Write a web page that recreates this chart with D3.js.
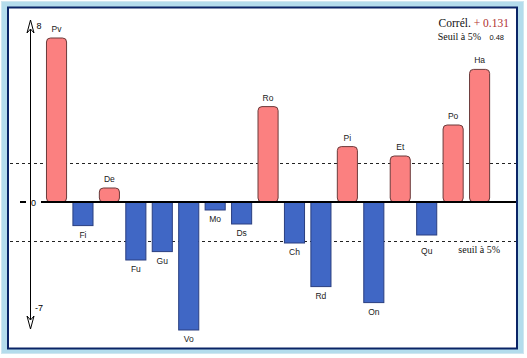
<!DOCTYPE html>
<html>
<head>
<meta charset="utf-8">
<script src="https://cdn.jsdelivr.net/npm/d3@7"></script>
<style>
  html, body { margin: 0; padding: 0; background: #ffffff; }
  svg { display: block; }
</style>
</head>
<body>
<div id="chart"></div>
<script>
// ---- Data ----
const categories = ["Pv","Fi","De","Fu","Gu","Vo","Mo","Ds","Ro","Ch","Rd","Pi","On","Et","Qu","Po","Ha"];
const values = [8.2, -1.18, 0.7, -2.9, -2.48, -6.4, -0.4, -1.1, 4.77, -2.05, -4.23, 2.77, -5.03, 2.3, -1.65, 3.85, 6.63];
const thresholds = [1.96, -1.96];
const axisLabels = {top: "8", zero: "0", bottom: "-7"};
const correlation = "+ 0.131";
const seuilValue = "0.48";

// ---- Layout ----
const W = 527, H = 358;
const svg = d3.select("#chart").append("svg").attr("width", W).attr("height", H);

// frame
svg.append("rect").attr("x", 1.5).attr("y", 1.5).attr("width", 522).attr("height", 352)
  .attr("fill", "#b4dcec").attr("stroke", "#cfe6f0").attr("stroke-width", 1);
svg.append("rect").attr("x", 8).attr("y", 7.5).attr("width", 509).attr("height", 341)
  .attr("fill", "#ffffff").attr("stroke", "#0a2466").attr("stroke-width", 2);

const x = d3.scaleBand().domain(categories).range([43.3, 492.8]).paddingInner(0.24).paddingOuter(0.12);
const y = d3.scaleLinear().domain([-7, 8]).range([342, 42]);
const y0 = y(0);

// threshold dashed lines
svg.selectAll("line.thr").data(thresholds).enter().append("line")
  .attr("x1", 10).attr("x2", 516)
  .attr("y1", d => Math.round(y(d)) + 0.5).attr("y2", d => Math.round(y(d)) + 0.5)
  .attr("stroke", "#222").attr("stroke-width", 1).attr("stroke-dasharray", "3,3");

// bars
const g = svg.append("g");
g.selectAll("rect.bar").data(values).enter().append("rect")
  .attr("x", (d, i) => x(categories[i]))
  .attr("width", x.bandwidth())
  .attr("y", d => d >= 0 ? y(d) : y0)
  .attr("height", d => Math.abs(y(d) - y0))
  .attr("rx", d => d >= 0 ? 4 : 0)
  .attr("fill", d => d >= 0 ? "#fb8080" : "#4067c5")
  .attr("stroke", d => d >= 0 ? "#6b3b3b" : "#2a3f80")
  .attr("stroke-width", 1);

// zero line
svg.append("line").attr("x1", 20).attr("x2", 26).attr("y1", y0).attr("y2", y0)
  .attr("stroke", "#000").attr("stroke-width", 2);
svg.append("line").attr("x1", 41).attr("x2", 516).attr("y1", y0).attr("y2", y0)
  .attr("stroke", "#000").attr("stroke-width", 2);

// bar labels (negative labels moved below the threshold line if they would cross it)
const yLow = y(thresholds[1]);
function labelY(d) {
  if (d >= 0) return y(d) - 6;
  let b = y(d) + 12;
  if (b - 8 < yLow && b > yLow) b = yLow + 13;
  return b;
}
g.selectAll("text.lab").data(values).enter().append("text")
  .attr("x", (d, i) => x(categories[i]) + x.bandwidth() / 2)
  .attr("y", labelY)
  .attr("text-anchor", "middle")
  .attr("font-family", "Liberation Sans, Arial, sans-serif")
  .attr("font-size", 8.5)
  .attr("fill", "#1a1a1a")
  .text((d, i) => categories[i]);

// y axis with arrows
const ax = 30.5;
svg.append("line").attr("x1", ax).attr("x2", ax).attr("y1", 22).attr("y2", 328)
  .attr("stroke", "#000").attr("stroke-width", 1);
svg.append("path").attr("d", `M${ax},20 L${ax-3.5},33 L${ax},29 L${ax+3.5},33 Z`)
  .attr("fill", "#fff").attr("stroke", "#000").attr("stroke-width", 1);
svg.append("path").attr("d", `M${ax},329 L${ax-3.5},316 L${ax},320 L${ax+3.5},316 Z`)
  .attr("fill", "#fff").attr("stroke", "#000").attr("stroke-width", 1);

const axFont = "Liberation Sans, Arial, sans-serif";
svg.append("text").attr("x", 36.5).attr("y", 29).attr("font-family", axFont).attr("font-size", 9).text(axisLabels.top);
svg.append("text").attr("x", 33.5).attr("y", y0 + 3.5).attr("font-family", axFont).attr("font-size", 9).attr("text-anchor", "middle").text(axisLabels.zero);
svg.append("text").attr("x", 35).attr("y", 311).attr("font-family", axFont).attr("font-size", 9).text(axisLabels.bottom);

// top-right annotation
const serif = "Liberation Serif, Times New Roman, serif";
const t1 = svg.append("text").attr("x", 509).attr("y", 27).attr("text-anchor", "end")
  .attr("font-family", serif).attr("font-size", 11.5);
t1.append("tspan").attr("fill", "#111").text("Corrél. ");
t1.append("tspan").attr("fill", "#b03030").text(correlation);
svg.append("text").attr("x", 481).attr("y", 40).attr("text-anchor", "end")
  .attr("font-family", serif).attr("font-size", 10).attr("fill", "#111").text("Seuil à 5%");
svg.append("text").attr("x", 504).attr("y", 40).attr("text-anchor", "end")
  .attr("font-family", axFont).attr("font-size", 7.5).attr("fill", "#111").text(seuilValue);

// lower threshold label
svg.append("text").attr("x", 500).attr("y", 253).attr("text-anchor", "end")
  .attr("font-family", serif).attr("font-size", 10).attr("fill", "#111").text("seuil à 5%");
</script>
</body>
</html>
